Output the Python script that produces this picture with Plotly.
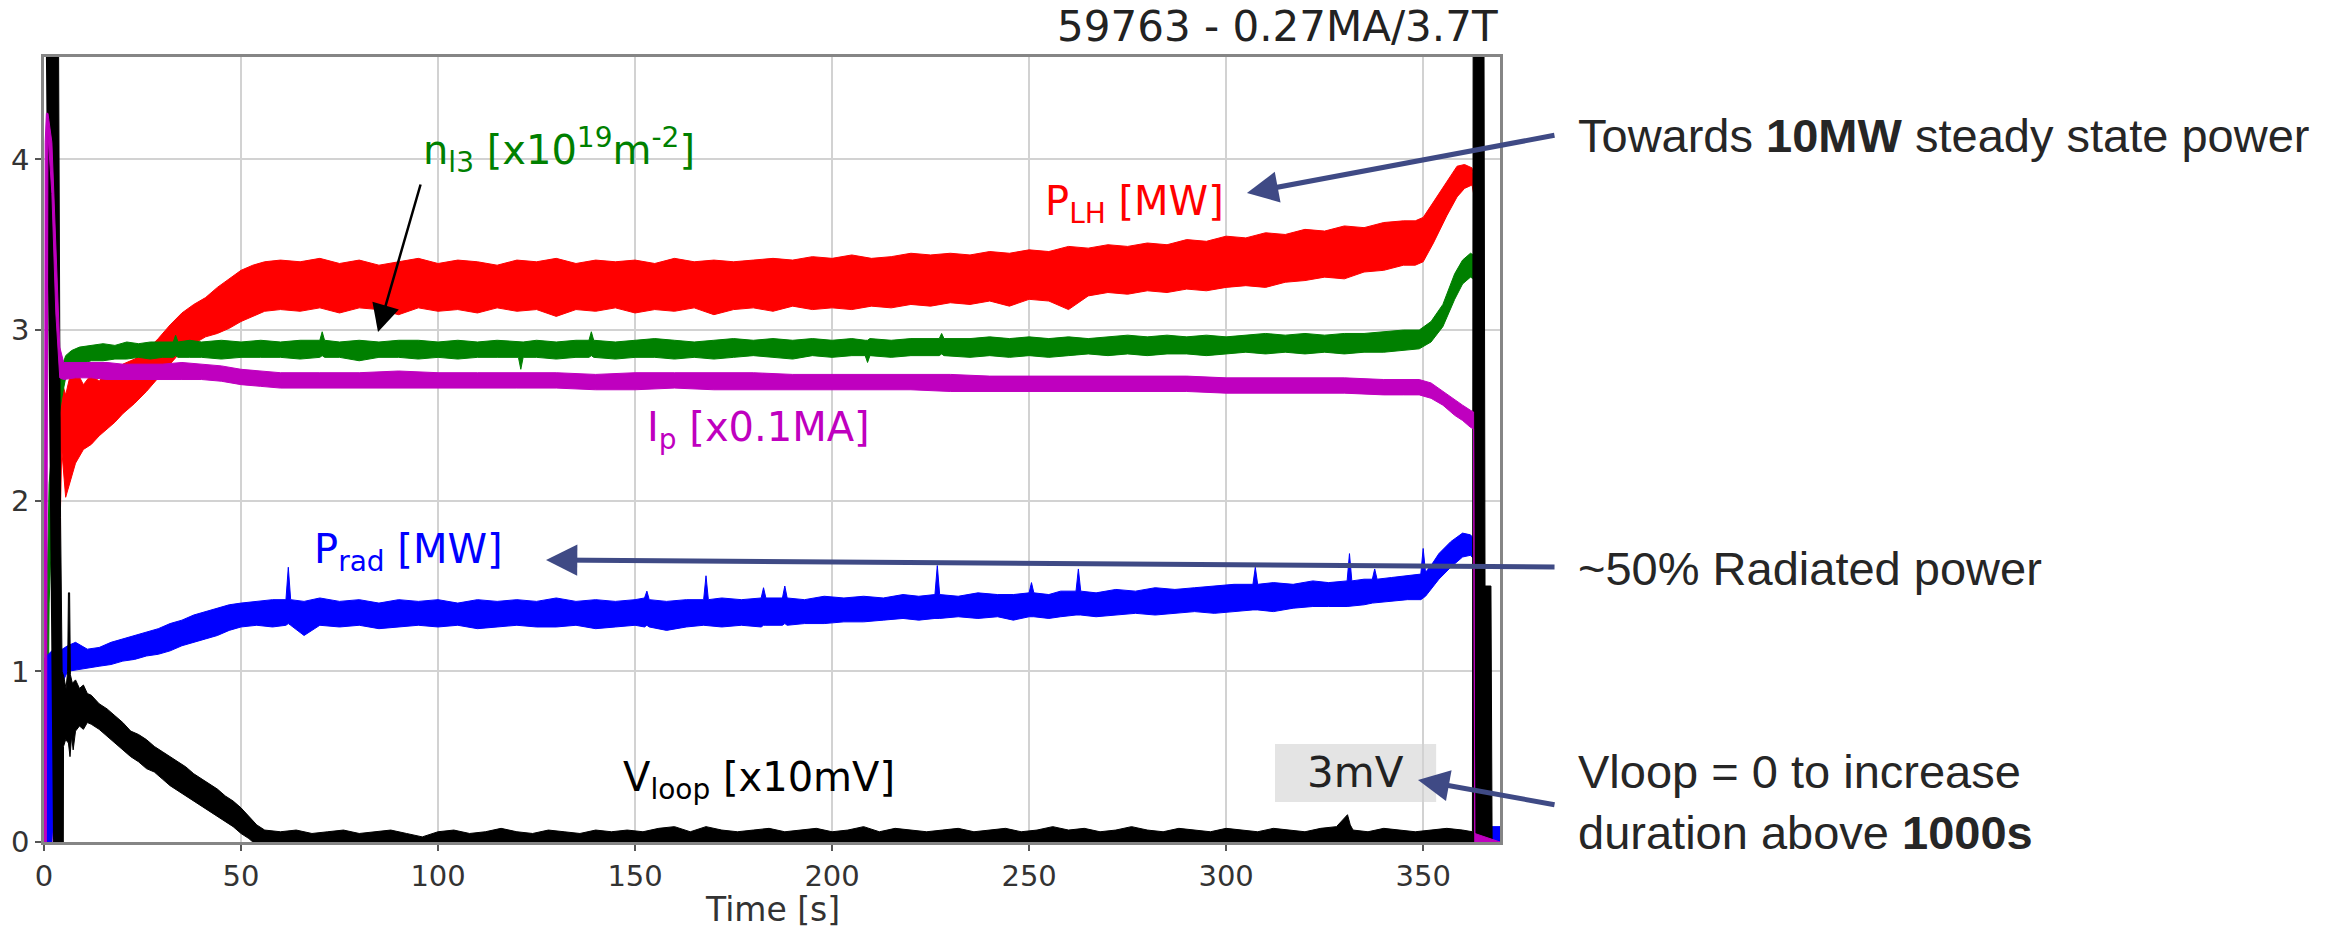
import plotly.graph_objects as go

# ---------------- data ----------------
x_ticks = [0, 50, 100, 150, 200, 250, 300, 350]
y_ticks = [0, 1, 2, 3, 4]

# P_LH [MW]  (red band: upper / lower envelope)
plh_t = [0, 2.0, 3.5, 4.5, 5.5, 6.5, 8, 10, 12, 14,
         16, 18, 20, 23, 26, 29, 32, 35, 38, 41,
         44, 47, 50, 53, 56, 60, 65, 70, 75, 80,
         85, 90, 95, 100, 105, 110, 115, 120, 125, 130,
         135, 140, 145, 150, 155, 160, 165, 170, 175, 180,
         185, 190, 195, 200, 205, 210, 215, 220, 225, 230,
         235, 240, 245, 250, 255, 260, 265, 270, 275, 280,
         285, 290, 295, 300, 305, 310, 315, 320, 325, 330,
         335, 340, 345, 348, 350, 352.6, 356, 358.6, 360.5, 362.4,
         362.8, 363.1, 369.5]
plh_hi = [0, 0.05, 2.20, 2.70, 2.62, 2.72, 2.77, 2.68, 2.74, 2.70,
          2.76, 2.73, 2.80, 2.83, 2.88, 2.95, 3.03, 3.10, 3.15, 3.19,
          3.25, 3.30, 3.35, 3.38, 3.40, 3.41, 3.40, 3.42, 3.39, 3.41,
          3.38, 3.40, 3.42, 3.39, 3.41, 3.40, 3.38, 3.41, 3.40, 3.42,
          3.39, 3.41, 3.40, 3.41, 3.39, 3.42, 3.40, 3.41, 3.40, 3.41,
          3.42, 3.41, 3.43, 3.42, 3.44, 3.42, 3.43, 3.45, 3.44, 3.45,
          3.44, 3.46, 3.45, 3.47, 3.46, 3.49, 3.48, 3.50, 3.49, 3.51,
          3.50, 3.53, 3.52, 3.55, 3.54, 3.57, 3.56, 3.59, 3.58, 3.61,
          3.60, 3.63, 3.64, 3.64, 3.66, 3.75, 3.87, 3.96, 3.97, 3.95,
          3.90, 0.05, 0]
plh_lo = [0, 0, 1.20, 2.30, 2.02, 2.10, 2.22, 2.30, 2.33, 2.38,
          2.42, 2.46, 2.51, 2.57, 2.64, 2.72, 2.80, 2.88, 2.92, 2.96,
          2.98, 3.01, 3.05, 3.08, 3.11, 3.12, 3.11, 3.13, 3.10, 3.13,
          3.12, 3.09, 3.13, 3.11, 3.12, 3.10, 3.13, 3.11, 3.12, 3.08,
          3.12, 3.11, 3.13, 3.10, 3.12, 3.11, 3.13, 3.09, 3.12, 3.13,
          3.11, 3.14, 3.12, 3.13, 3.12, 3.14, 3.13, 3.15, 3.14, 3.16,
          3.15, 3.17, 3.14, 3.18, 3.17, 3.12, 3.20, 3.22, 3.21, 3.23,
          3.22, 3.24, 3.23, 3.25, 3.26, 3.25, 3.28, 3.29, 3.31, 3.30,
          3.34, 3.35, 3.38, 3.38, 3.40, 3.51, 3.67, 3.78, 3.83, 3.85,
          3.80, 0, 0]

# n_l3 [x10^19 m^-2]  (green band)
nl_t = [0, 0.3, 0.8, 1.3, 2.5, 3.5, 4.5, 5.5, 7, 9,
        12, 15, 18, 21, 24, 27, 30, 32.8, 33.4, 34.0,
        37, 40, 45, 50, 55, 60, 65, 70.0, 70.6, 71.2,
        75, 80, 85, 90, 95, 100, 105, 110, 115, 120.4,
        121.0, 121.6, 125, 130, 135, 138.3, 138.9, 139.5, 145, 150,
        155, 160, 165, 170, 175, 180, 185, 190, 195, 200,
        205, 208.4, 209.0, 209.6, 215, 220, 227.2, 227.8, 228.4, 235,
        240, 245, 250, 255, 260, 265, 270, 275, 280, 285,
        290, 295, 300, 305, 310, 315, 320, 325, 330, 335,
        340, 345, 349, 352, 355, 358, 360, 362, 362.8, 363.1,
        369.5]
nl_hi = [0, 0.2, 1.5, 2.1, 2.45, 2.62, 2.78, 2.85, 2.88, 2.90,
         2.91, 2.92, 2.91, 2.93, 2.92, 2.93, 2.93, 2.93, 2.97, 2.93,
         2.94, 2.93, 2.94, 2.93, 2.94, 2.93, 2.94, 2.94, 2.99, 2.94,
         2.93, 2.94, 2.93, 2.94, 2.94, 2.93, 2.94, 2.93, 2.94, 2.93,
         2.93, 2.93, 2.94, 2.93, 2.94, 2.94, 2.99, 2.94, 2.93, 2.94,
         2.95, 2.94, 2.93, 2.94, 2.95, 2.94, 2.95, 2.94, 2.95, 2.94,
         2.95, 2.94, 2.94, 2.95, 2.94, 2.95, 2.95, 2.98, 2.95, 2.95,
         2.96, 2.95, 2.96, 2.95, 2.96, 2.95, 2.96, 2.97, 2.96, 2.97,
         2.96, 2.97, 2.96, 2.97, 2.98, 2.97, 2.98, 2.97, 2.98, 2.98,
         2.99, 3.00, 3.00, 3.05, 3.15, 3.33, 3.41, 3.45, 3.44, 0.05,
         0]
nl_lo = [0, 0, 0, 1.4, 2.2, 2.45, 2.60, 2.72, 2.78, 2.80,
         2.82, 2.82, 2.83, 2.83, 2.84, 2.83, 2.84, 2.84, 2.85, 2.84,
         2.84, 2.84, 2.83, 2.84, 2.84, 2.84, 2.83, 2.84, 2.85, 2.84,
         2.84, 2.82, 2.84, 2.84, 2.83, 2.84, 2.83, 2.84, 2.84, 2.84,
         2.77, 2.84, 2.84, 2.83, 2.84, 2.84, 2.85, 2.84, 2.83, 2.84,
         2.84, 2.83, 2.84, 2.83, 2.84, 2.85, 2.84, 2.83, 2.85, 2.84,
         2.85, 2.85, 2.81, 2.85, 2.84, 2.85, 2.85, 2.86, 2.85, 2.84,
         2.85, 2.84, 2.85, 2.84, 2.85, 2.86, 2.85, 2.86, 2.85, 2.86,
         2.86, 2.85, 2.86, 2.87, 2.86, 2.87, 2.86, 2.87, 2.86, 2.87,
         2.87, 2.88, 2.89, 2.93, 3.02, 3.18, 3.27, 3.31, 3.30, 0,
         0]

# I_p [x0.1 MA]  (magenta band)
ip_t = [0, 0.3, 0.6, 1.0, 2.0, 3.0, 4.0, 5, 8, 12,
        16, 20, 25, 30, 35, 40, 45, 50, 55, 60,
        70, 80, 90, 100, 110, 120, 130, 140, 150, 160,
        170, 180, 190, 200, 210, 220, 230, 240, 250, 260,
        270, 280, 290, 300, 310, 320, 330, 340, 345, 349,
        352, 355, 358, 360, 362, 362.8, 363.1, 369.5]
ip_hi = [0, 4.10, 4.27, 4.27, 4.10, 3.50, 2.90, 2.81, 2.81, 2.81,
         2.81, 2.80, 2.80, 2.80, 2.81, 2.80, 2.79, 2.77, 2.76, 2.75,
         2.75, 2.75, 2.76, 2.75, 2.75, 2.75, 2.75, 2.74, 2.75, 2.75,
         2.75, 2.75, 2.74, 2.74, 2.74, 2.74, 2.74, 2.73, 2.73, 2.73,
         2.73, 2.73, 2.73, 2.72, 2.72, 2.72, 2.72, 2.71, 2.71, 2.71,
         2.69, 2.64, 2.59, 2.56, 2.53, 2.52, 0.05, 0]
ip_lo = [0, 0, 0, 4.15, 3.80, 3.10, 2.72, 2.71, 2.72, 2.72,
         2.71, 2.71, 2.71, 2.71, 2.71, 2.71, 2.70, 2.68, 2.67, 2.66,
         2.66, 2.66, 2.66, 2.66, 2.66, 2.66, 2.66, 2.65, 2.65, 2.66,
         2.65, 2.65, 2.65, 2.65, 2.65, 2.65, 2.64, 2.64, 2.64, 2.64,
         2.64, 2.64, 2.64, 2.63, 2.63, 2.63, 2.63, 2.62, 2.62, 2.62,
         2.60, 2.56, 2.50, 2.47, 2.43, 2.42, 0, 0]

# P_rad [MW]  (blue band)
prad_t = [0, 0.2, 2.0, 4.0, 6, 8, 11, 14, 17, 20,
          23, 26, 29, 32, 35, 38, 41, 44, 47, 50,
          54, 58, 61.4, 62.0, 62.6, 66, 70, 75, 80, 85,
          90, 95, 100, 105, 110, 115, 120, 125, 130, 135,
          140, 145, 150, 152.4, 153.0, 153.6, 158, 163, 167.4, 168.0,
          168.6, 172, 177, 182.0, 182.6, 183.2, 187.4, 188.0, 188.6, 193,
          198, 203, 208, 213, 218, 222, 226.1, 226.7, 227.3, 232,
          237, 242, 246, 250.0, 250.6, 251.2, 255, 258, 261.9, 262.5,
          263.1, 267, 272, 277, 282, 287, 292, 297, 302, 306.8,
          307.4, 308.0, 312, 317, 322, 326, 330.7, 331.3, 331.9, 335,
          337.1, 337.7, 338.3, 342, 346, 349.4, 350.0, 350.6, 352, 354,
          357, 360, 362, 362.8, 363.1, 369.5]
prad_hi = [0, 1.08, 1.12, 1.12, 1.15, 1.17, 1.13, 1.14, 1.17, 1.19,
           1.21, 1.23, 1.25, 1.28, 1.30, 1.33, 1.35, 1.37, 1.39, 1.40,
           1.41, 1.42, 1.42, 1.61, 1.42, 1.41, 1.43, 1.41, 1.42, 1.40,
           1.42, 1.41, 1.42, 1.40, 1.42, 1.41, 1.42, 1.41, 1.43, 1.41,
           1.42, 1.41, 1.42, 1.43, 1.47, 1.42, 1.41, 1.42, 1.42, 1.56,
           1.42, 1.43, 1.42, 1.43, 1.49, 1.43, 1.43, 1.50, 1.43, 1.42,
           1.44, 1.43, 1.44, 1.43, 1.45, 1.44, 1.45, 1.62, 1.45, 1.44,
           1.46, 1.45, 1.45, 1.46, 1.52, 1.46, 1.45, 1.47, 1.47, 1.60,
           1.47, 1.46, 1.48, 1.47, 1.49, 1.48, 1.49, 1.50, 1.51, 1.51,
           1.61, 1.51, 1.52, 1.51, 1.53, 1.52, 1.53, 1.69, 1.53, 1.54,
           1.54, 1.60, 1.54, 1.55, 1.56, 1.57, 1.72, 1.58, 1.62, 1.69,
           1.76, 1.81, 1.80, 1.78, 0.09, 0.09]
prad_lo = [0, 0, 0, 0.90, 1.00, 1.01, 1.02, 1.03, 1.04, 1.06,
           1.07, 1.09, 1.10, 1.12, 1.15, 1.17, 1.19, 1.21, 1.24, 1.26,
           1.27, 1.26, 1.27, 1.28, 1.27, 1.21, 1.27, 1.26, 1.27, 1.25,
           1.26, 1.27, 1.26, 1.27, 1.25, 1.26, 1.27, 1.26, 1.26, 1.27,
           1.25, 1.26, 1.27, 1.26, 1.27, 1.26, 1.24, 1.26, 1.27, 1.27,
           1.27, 1.26, 1.27, 1.26, 1.27, 1.27, 1.27, 1.28, 1.27, 1.28,
           1.28, 1.29, 1.29, 1.30, 1.31, 1.30, 1.31, 1.31, 1.31, 1.32,
           1.31, 1.32, 1.30, 1.32, 1.32, 1.32, 1.31, 1.32, 1.33, 1.33,
           1.33, 1.32, 1.33, 1.34, 1.33, 1.34, 1.35, 1.34, 1.35, 1.36,
           1.36, 1.36, 1.35, 1.37, 1.38, 1.38, 1.38, 1.38, 1.38, 1.39,
           1.40, 1.40, 1.40, 1.41, 1.42, 1.42, 1.43, 1.44, 1.48, 1.54,
           1.61, 1.67, 1.68, 1.66, 0, 0]

# V_loop [x10 mV]  (black band: upper outline and lower outline)
vl_hi_t = [0.25, 3.6, 4.2, 4.6, 5.0, 5.6, 6.0, 6.2, 6.5, 6.7,
           7.2, 8, 9, 10, 11, 12, 14, 16, 18, 20,
           22, 24, 26, 28, 30, 32, 34, 36, 38, 40,
           42, 44, 46, 48, 50, 52, 54, 56, 60, 64,
           68, 72, 76, 80, 84, 88, 92, 96, 100, 104,
           108, 112, 116, 120, 124, 128, 132, 136, 140, 144,
           148, 152, 156, 160, 164, 168, 172, 176, 180, 184,
           188, 192, 196, 200, 204, 208, 212, 216, 220, 224,
           228, 232, 236, 240, 244, 248, 252, 256, 260, 264,
           268, 272, 276, 280, 284, 288, 292, 296, 300, 304,
           308, 312, 316, 320, 324, 328, 330.8, 331.5, 332.2, 336,
           340, 344, 348, 352, 356, 360, 362.5, 362.7, 365.4, 365.7,
           367.2, 367.5, 369.5]
vl_hi = [5.2, 5.2, 1.9, 1.0, 0.97, 0.90, 1.00, 1.46, 1.46, 0.98,
         0.93, 0.95, 0.90, 0.92, 0.87, 0.86, 0.81, 0.78, 0.74, 0.70,
         0.65, 0.63, 0.60, 0.56, 0.53, 0.50, 0.47, 0.44, 0.40, 0.37,
         0.34, 0.31, 0.27, 0.24, 0.20, 0.15, 0.10, 0.07, 0.06, 0.07,
         0.05, 0.06, 0.07, 0.05, 0.06, 0.07, 0.05, 0.03, 0.06, 0.07,
         0.05, 0.06, 0.08, 0.06, 0.05, 0.07, 0.06, 0.05, 0.07, 0.06,
         0.07, 0.06, 0.08, 0.09, 0.06, 0.09, 0.07, 0.06, 0.07, 0.08,
         0.06, 0.07, 0.08, 0.06, 0.07, 0.09, 0.06, 0.08, 0.07, 0.06,
         0.07, 0.08, 0.06, 0.07, 0.08, 0.06, 0.07, 0.09, 0.07, 0.08,
         0.06, 0.07, 0.09, 0.07, 0.06, 0.08, 0.07, 0.06, 0.08, 0.07,
         0.06, 0.08, 0.07, 0.06, 0.08, 0.09, 0.16, 0.10, 0.07, 0.06,
         0.08, 0.07, 0.06, 0.07, 0.08, 0.07, 0.06, 5.2, 5.2, 1.5,
         1.5, 0.0, 0.0]
vl_lo_t = [2.3, 4.9, 4.95, 5.5, 6.2, 6.6, 7.0, 7.4, 8, 9,
           10, 11, 12, 14, 16, 18, 20, 22, 24, 26,
           28, 30, 32, 34, 36, 38, 40, 42, 44, 46,
           48, 50, 52, 53, 369.5]
vl_lo = [0, 0, 0.56, 0.60, 0.58, 0.50, 0.62, 0.54, 0.65, 0.68,
         0.66, 0.70, 0.69, 0.66, 0.62, 0.58, 0.54, 0.50, 0.47, 0.43,
         0.41, 0.37, 0.33, 0.30, 0.27, 0.24, 0.21, 0.18, 0.15, 0.12,
         0.09, 0.05, 0.02, 0.0, 0.0]

# 3 mV box extent (data units)
box_t = [312.4, 353.3]
box_v = [0.235, 0.575]

# ---------------- figure ----------------
fig = go.Figure()


def band(t_hi, hi, lo, color, t_lo=None):
    if t_lo is None:
        t_lo = t_hi
    xs = list(t_hi) + list(t_lo)[::-1]
    ys = list(hi) + list(lo)[::-1]
    fig.add_trace(go.Scatter(x=xs, y=ys, mode="lines", fill="toself",
                             fillcolor=color, line=dict(color=color, width=1),
                             hoverinfo="skip", showlegend=False))


RED, GREEN, MAG, BLUE, BLACK = "#ff0000", "#008000", "#bf00bf", "#0000ff", "#000000"
band(plh_t, plh_hi, plh_lo, RED)
band(nl_t, nl_hi, nl_lo, GREEN)
band(prad_t, prad_hi, prad_lo, BLUE)
band(vl_hi_t, vl_hi, vl_lo, BLACK, t_lo=vl_lo_t)
band(ip_t, ip_hi, ip_lo, MAG)

fig.add_shape(type="rect", xref="x", yref="y", x0=box_t[0], x1=box_t[1],
              y0=box_v[0], y1=box_v[1], fillcolor="#e4e4e4",
              line=dict(width=0), layer="below")

axis_common = dict(showgrid=True, gridcolor="#d2d2d2", gridwidth=2, zeroline=False,
                   showline=True, linecolor="#858585", linewidth=2.5, mirror=True,
                   ticks="outside", ticklen=6, tickwidth=1.5, tickcolor="#555",
                   tickfont=dict(family="DejaVu Sans", size=29, color="#333"))
fig.update_xaxes(range=[0, 369.5], tickmode="array", tickvals=x_ticks,
                 ticktext=[str(v) for v in x_ticks], **axis_common)
fig.update_yaxes(range=[0, 4.6], tickmode="array", tickvals=y_ticks,
                 ticktext=[str(v) for v in y_ticks], **axis_common)

DV = "DejaVu Sans"
ARIAL = "Liberation Sans, Arial"
ARROW = "#3f4a85"

ann = []
# chart title and axis title
ann.append(dict(text="59763 - 0.27MA/3.7T", xref="paper", yref="paper", x=1.0, y=1.039,
                xanchor="right", yanchor="middle", showarrow=False,
                font=dict(family=DV, size=42, color="#222")))
ann.append(dict(text="Time [s]", xref="paper", yref="paper", x=0.5, y=-0.0866,
                xanchor="center", yanchor="middle", showarrow=False,
                font=dict(family=DV, size=33, color="#333")))
# series labels
ann.append(dict(text="n<sub>l3</sub> [x10<sup>19</sup>m<sup>-2</sup>]", x=95.7, y=4.055,
                xanchor="left", yanchor="middle", showarrow=False,
                font=dict(family=DV, size=40, color=GREEN)))
ann.append(dict(text="P<sub>LH</sub> [MW]", x=253.6, y=3.74, xanchor="left", yanchor="middle",
                showarrow=False, font=dict(family=DV, size=40, color=RED)))
ann.append(dict(text="I<sub>p</sub> [x0.1MA]", x=152.5, y=2.414, xanchor="left", yanchor="middle",
                showarrow=False, font=dict(family=DV, size=40, color=MAG)))
ann.append(dict(text="P<sub>rad</sub> [MW]", x=68, y=1.70, xanchor="left", yanchor="middle",
                showarrow=False, font=dict(family=DV, size=40, color=BLUE)))
ann.append(dict(text="V<sub>loop</sub> [x10mV]", x=146.4, y=0.363, xanchor="left", yanchor="middle",
                showarrow=False, font=dict(family=DV, size=40, color=BLACK)))
ann.append(dict(text="3mV", x=(box_t[0] + box_t[1]) / 2, y=(box_v[0] + box_v[1]) / 2,
                xanchor="center", yanchor="middle", showarrow=False,
                font=dict(family=DV, size=42, color="#222")))
# thin black arrow to density trace
ann.append(dict(text="", xref="paper", yref="paper", x=0.2294, y=0.6497,
                axref="pixel", ayref="pixel", ax=43, ay=-149, showarrow=True,
                arrowhead=2, arrowsize=2.2, arrowwidth=2.5, arrowcolor="#000"))
# right-hand comments
ann.append(dict(text="Towards <b>10MW</b> steady state power", xref="paper", yref="paper",
                x=1.0522, y=0.9006, xanchor="left", yanchor="middle", showarrow=False,
                font=dict(family=ARIAL, size=47, color="#262626")))
ann.append(dict(text="~50% Radiated power", xref="paper", yref="paper",
                x=1.0522, y=0.3478, xanchor="left", yanchor="middle", showarrow=False,
                font=dict(family=ARIAL, size=47, color="#262626")))
ann.append(dict(text="Vloop = 0 to increase<br>duration above <b>1000s</b>", xref="paper", yref="paper",
                x=1.0522, y=0.051, xanchor="left", yanchor="middle", align="left", showarrow=False,
                font=dict(family=ARIAL, size=47, color="#262626")))
# blue arrows
for (xp, yp, axp, ayp) in [(0.8262, 0.8268, 309, -58), (0.3448, 0.3592, 1010, 7), (0.9437, 0.0790, 138, 25)]:
    ann.append(dict(text="", xref="paper", yref="paper", x=xp, y=yp, axref="pixel", ayref="pixel",
                    ax=axp, ay=ayp, showarrow=True, arrowhead=2, arrowsize=1.25, arrowwidth=5,
                    arrowcolor=ARROW))

fig.update_layout(width=2346, height=930, margin=dict(l=44, r=846, t=57, b=88),
                  paper_bgcolor="white", plot_bgcolor="white", showlegend=False,
                  annotations=ann, font=dict(family=DV))

fig.write_html("out.html")
